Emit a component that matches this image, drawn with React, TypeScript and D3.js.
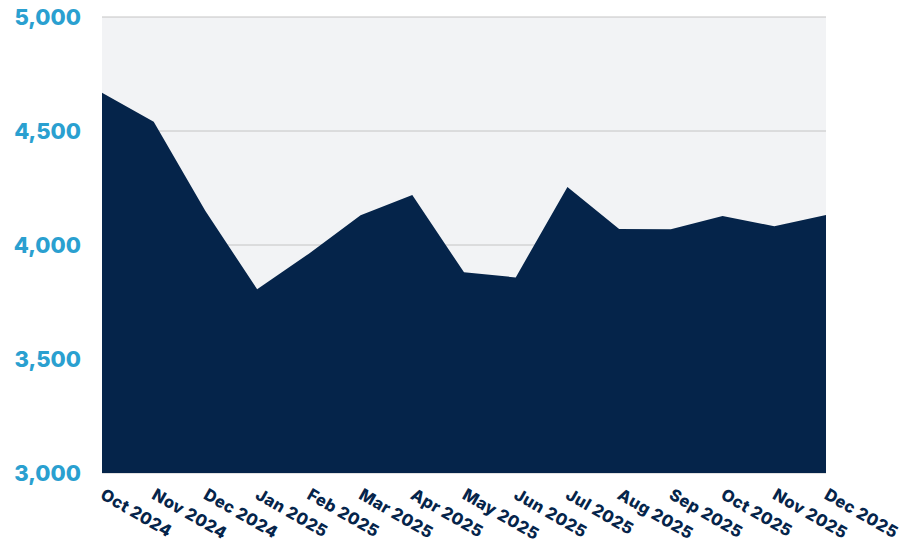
import React from "react";
import * as d3 from "d3";

const categories = ["Oct 2024","Nov 2024","Dec 2024","Jan 2025","Feb 2025","Mar 2025","Apr 2025","May 2025","Jun 2025","Jul 2025","Aug 2025","Sep 2025","Oct 2025","Nov 2025","Dec 2025"];
const values = [4668, 4541, 4149, 3806, 3962, 4130, 4219, 3880, 3858, 4254, 4070, 4069, 4127, 4082, 4132];
const yTicks = [3000, 3500, 4000, 4500, 5000];

export default function App() {
  const W = 902, H = 548;
  const left = 102, right = 826, top = 17, bottom = 473;
  const x = d3.scalePoint<string>().domain(categories).range([left, right]);
  const y = d3.scaleLinear().domain([3000, 5000]).range([bottom, top]);
  const area = d3.area<number>()
    .x((_, i) => x(categories[i]) as number)
    .y0(y(3000))
    .y1((d) => y(d));
  const fmt = d3.format(",");
  return (
    <svg width={W} height={H} style={{ position: "absolute", left: 0, top: 0 }}>
      <rect x={left} y={top} width={right - left} height={bottom - top} fill="#f2f3f5" />
      {yTicks.map((t) => (
        <line key={t} x1={left} x2={right} y1={y(t)} y2={y(t)} stroke="#c4c4c4" strokeWidth={1} />
      ))}
      <path d={area(values) || ""} fill="#05244a" />
      {yTicks.map((t) => (
        <text key={"l" + t} x={81} y={y(t)} dy="0.36em" textAnchor="end"
          fontFamily="Inter, 'Open Sans', sans-serif" fontWeight={800} fontSize={22} fill="#2aa0d0">
          {fmt(t)}
        </text>
      ))}
      {categories.map((c) => (
        <text key={c} transform={`translate(${x(c)},${bottom + 22}) rotate(30)`} x={-1} y={4}
          textAnchor="start" fontFamily="Inter, 'Open Sans', sans-serif" fontWeight={800}
          fontSize={16.5} letterSpacing={0.4} fill="#05244a">
          {c}
        </text>
      ))}
    </svg>
  );
}
